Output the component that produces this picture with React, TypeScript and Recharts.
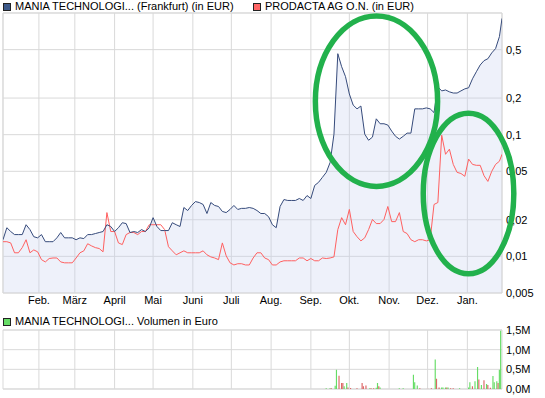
import React from 'react';
import { ComposedChart, Area, Line, Bar, Cell, XAxis, YAxis, CartesianGrid, ReferenceArea, ReferenceLine } from 'recharts';

// day of year (continues past 365 into January)
const days = [
  3, 6, 9, 12, 15, 18, 21, 24, 27, 30,
  33, 36, 39, 42, 45, 48, 51, 54, 57, 60,
  63, 66, 69, 72, 75, 78, 81, 84, 87, 90,
  93, 96, 99, 102, 105, 108, 111, 114, 117, 120,
  123, 126, 129, 132, 135, 138, 141, 144, 147, 150,
  153, 156, 159, 162, 165, 168, 171, 174, 177, 180,
  183, 186, 189, 192, 195, 198, 201, 204, 207, 210,
  213, 216, 219, 222, 225, 228, 231, 234, 237, 240,
  243, 246, 249, 252, 255, 258, 261, 264, 267, 270,
  273, 276, 279, 282, 285, 288, 291, 294, 297, 300,
  303, 306, 309, 312, 315, 318, 321, 324, 327, 330,
  333, 336, 339, 342, 345, 348, 351, 354, 357, 360,
  363, 366, 369, 372, 375, 378, 381, 384, 387, 390,
  392,
];

const maniaPrice = [
  0.0137, 0.0172, 0.016, 0.0151, 0.0151, 0.0151, 0.0182, 0.0166, 0.0145, 0.0142,
  0.0151, 0.0132, 0.0132, 0.0132, 0.0142, 0.0157, 0.0142, 0.0142, 0.0142, 0.0137,
  0.0142, 0.014, 0.0151, 0.0151, 0.0154, 0.0157, 0.016, 0.0182, 0.0176, 0.016,
  0.0172, 0.0189, 0.0186, 0.0157, 0.016, 0.0157, 0.0166, 0.016, 0.0172, 0.0208,
  0.0176, 0.0163, 0.0163, 0.0163, 0.0189, 0.0182, 0.0176, 0.0252, 0.0238, 0.0262,
  0.0282, 0.0277, 0.0267, 0.0225, 0.0277, 0.0262, 0.0257, 0.0234, 0.0229, 0.0243,
  0.0262, 0.0243, 0.0248, 0.0248, 0.0252, 0.0248, 0.0238, 0.0225, 0.0225, 0.0212,
  0.0182, 0.0172, 0.0257, 0.0293, 0.0288, 0.0288, 0.0288, 0.0299, 0.0288, 0.0316,
  0.0299, 0.0383, 0.0406, 0.0446, 0.049, 0.059, 0.101, 0.463, 0.362, 0.3,
  0.216, 0.175, 0.163, 0.172, 0.101, 0.09, 0.0955, 0.135, 0.123, 0.123,
  0.12, 0.107, 0.097, 0.092, 0.097, 0.103, 0.103, 0.163, 0.163, 0.163,
  0.166, 0.163, 0.152, 0.247, 0.229, 0.233, 0.225, 0.22, 0.22, 0.229,
  0.238, 0.243, 0.288, 0.329, 0.374, 0.406, 0.421, 0.47, 0.51, 0.64,
  0.902,
];

const prodactaPrice = [
  0.0132, 0.0132, 0.0129, 0.0107, 0.0107, 0.0118, 0.0137, 0.0107, 0.0113, 0.0109,
  0.0094, 0.009, 0.0096, 0.0097, 0.0097, 0.009, 0.00885, 0.00885, 0.00885, 0.0097,
  0.0107, 0.0111, 0.0127, 0.0122, 0.0118, 0.0116, 0.0109, 0.0229, 0.016, 0.016,
  0.0129, 0.0125, 0.0151, 0.0157, 0.0157, 0.0151, 0.016, 0.016, 0.0182, 0.0182,
  0.0182, 0.0182, 0.0166, 0.012, 0.0111, 0.0103, 0.0107, 0.0111, 0.0107, 0.0107,
  0.0107, 0.0107, 0.0111, 0.0103, 0.0099, 0.0097, 0.0094, 0.0129, 0.0101, 0.00885,
  0.0085, 0.0087, 0.0087, 0.0085, 0.0085, 0.0097, 0.0107, 0.0107, 0.0097, 0.0094,
  0.0085, 0.0085, 0.009, 0.0092, 0.0092, 0.0092, 0.0092, 0.0097, 0.0097, 0.0092,
  0.0096, 0.0092, 0.0092, 0.0097, 0.0096, 0.0097, 0.0099, 0.0166, 0.0208, 0.0182,
  0.0243, 0.016, 0.0145, 0.0134, 0.0142, 0.0166, 0.0201, 0.0186, 0.0186, 0.0201,
  0.0257, 0.0193, 0.0193, 0.0229, 0.016, 0.0154, 0.0137, 0.0132, 0.0137, 0.0137,
  0.0134, 0.0137, 0.0267, 0.0277, 0.099, 0.069, 0.076, 0.057, 0.049, 0.048,
  0.0455, 0.063, 0.057, 0.056, 0.056, 0.046, 0.0413, 0.05, 0.057, 0.0605,
  0.069,
];

const monthTicks = [31, 59, 90, 120, 151, 181, 212, 243, 273, 304, 334, 365];
const monthLabels = ['Feb.', 'März', 'April', 'Mai', 'Juni', 'Juli', 'Aug.', 'Sep.', 'Okt.', 'Nov.', 'Dez.', 'Jan.'];
const priceTicks = [0.005, 0.01, 0.02, 0.05, 0.1, 0.2, 0.5];

// volume in million EUR, up = green bar, otherwise red
const volumeDays = [
  255, 258, 259, 262, 263, 265, 267, 268, 269, 271, 272, 274, 279, 283, 284, 286,
  289, 290, 292, 294, 295, 296, 297, 312, 315, 323, 324, 326, 328, 334, 337, 340,
  341, 343, 345, 346, 348, 349, 350, 352, 354, 359, 366, 367, 369, 371, 373, 374,
  376, 378, 380, 381, 383, 385, 386, 388, 389, 390, 391,
];
const volumeValues = [
  0.02, 0.02, 0.02, 0.08, 0.49, 0.34, 0.15, 0.15, 0.07, 0.15, 0.04, 0.025, 0.02, 0.15, 0.07, 0.09,
  0.02, 0.02, 0.02, 0.03, 0.15, 0.07, 0.04, 0.02, 0.02, 0.36, 0.17, 0.09, 0.02, 0.02, 0.02, 0.75,
  0.26, 0.04, 0.04, 0.04, 0.04, 0.04, 0.04, 0.02, 0.02, 0.02, 0.04, 0.17, 0.07, 0.2, 0.56, 0.24,
  0.1, 0.22, 0.13, 0.1, 0.03, 0.33, 0.17, 0.2, 0.15, 0.49, 1.48,
];
const volumeUp = [
  1, 1, 0, 1, 1, 0, 0, 0, 1, 1, 0, 0, 0, 0, 0, 0,
  1, 0, 0, 1, 1, 0, 1, 1, 1, 1, 1, 1, 0, 0, 0, 1,
  0, 0, 1, 1, 1, 0, 1, 0, 0, 1, 1, 1, 0, 1, 1, 0,
  1, 0, 1, 0, 0, 1, 1, 1, 0, 1, 1,
];
const volumeTicks = [0, 0.5, 1, 1.5];

// hand drawn green ellipses (day range, price range)
const circles = [
  { x1: 246.5, x2: 341.8, y1: 0.0376, y2: 0.946 },
  { x1: 330.6, x2: 401.2, y1: 0.0072, y2: 0.15 },
];

const priceData = days.map((d, i) => ({ day: d, mania: maniaPrice[i], prodacta: prodactaPrice[i] }));
const volumeData = volumeDays.map((d, i) => ({ day: d, vol: volumeValues[i], up: volumeUp[i] }));

const GRID = '#d9d9d9';
const NAVY = '#364b7b';
const RED = '#ff6060';
const GREEN = '#22b14c';

const fmtMonth = (v: number) => monthLabels[monthTicks.indexOf(v)] ?? '';
const fmtPrice = (v: number) => String(v).replace('.', ',');
const fmtVol = (v: number) => v.toFixed(1).replace('.', ',') + 'M';

const Ellipse = (props: any) => {
  const { x, y, width, height } = props;
  return (
    <ellipse
      cx={x + width / 2}
      cy={y + height / 2}
      rx={Math.abs(width) / 2}
      ry={Math.abs(height) / 2}
      fill="none"
      stroke={GREEN}
      strokeWidth={5.5}
    />
  );
};

const LegendItem = ({ color, label, left, top }: { color: string; label: string; left: number; top: number }) => (
  <div style={{ position: 'absolute', left, top, display: 'flex', alignItems: 'center', whiteSpace: 'nowrap', fontSize: 11, lineHeight: '13px' }}>
    <span style={{ display: 'inline-block', width: 6, height: 6, background: color, border: '1px solid #222', marginRight: 4 }} />
    {label}
  </div>
);

export default function App() {
  const tick = { fill: '#000', fontSize: 11 };
  return (
    <div style={{ position: 'absolute', left: 0, top: 0, width: 545, height: 398, background: '#fff', fontFamily: '"Liberation Sans", Arial, sans-serif', color: '#000' }}>
      <LegendItem color="#3d5a8a" label="MANIA TECHNOLOGI... (Frankfurt) (in EUR)" left={3} top={0} />
      <LegendItem color="#ff6666" label="PRODACTA AG O.N. (in EUR)" left={253} top={0} />

      <div style={{ position: 'absolute', left: 0, top: 0 }}>
        <ComposedChart width={545} height={310} data={priceData} margin={{ top: 13, right: 0, bottom: 0, left: 3 }}>
          <CartesianGrid stroke={GRID} />
          <XAxis
            dataKey="day"
            type="number"
            domain={[3, 392]}
            allowDataOverflow
            ticks={monthTicks}
            interval={0}
            tickFormatter={fmtMonth}
            axisLine={false}
            tickLine={false}
            tickSize={0}
            tickMargin={3}
            height={17}
            tick={tick}
          />
          <YAxis
            orientation="right"
            type="number"
            scale="log"
            domain={[0.005, 1]}
            allowDataOverflow
            ticks={priceTicks}
            interval={0}
            tickFormatter={fmtPrice}
            axisLine={false}
            tickLine={false}
            tickSize={0}
            tickMargin={4}
            width={43}
            tick={tick}
          />
          <Area
            dataKey="mania"
            type="linear"
            stroke="none"
            fill="#c6d0ee"
            fillOpacity={0.3}
            baseValue={0.005}
            isAnimationActive={false}
          />
          <ReferenceArea x1={3} x2={392} y1={0.005} y2={1} fill="none" stroke={GRID} ifOverflow="visible" />
          <Line dataKey="prodacta" type="linear" stroke={RED} strokeWidth={1} dot={false} isAnimationActive={false} />
          <Line dataKey="mania" type="linear" stroke={NAVY} strokeWidth={1} dot={false} isAnimationActive={false} />
          {circles.map((c, i) => (
            <ReferenceArea key={i} x1={c.x1} x2={c.x2} y1={c.y1} y2={c.y2} ifOverflow="visible" shape={Ellipse} zIndex={2000} />
          ))}
        </ComposedChart>
      </div>

      <LegendItem color="#66dd66" label="MANIA TECHNOLOGI... Volumen in Euro" left={3} top={315} />

      <div style={{ position: 'absolute', left: 0, top: 320 }}>
        <ComposedChart width={545} height={78} data={volumeData} margin={{ top: 10, right: 0, bottom: 9, left: 3 }}>
          <CartesianGrid stroke={GRID} vertical={false} />
          <XAxis dataKey="day" type="number" domain={[3, 392]} allowDataOverflow hide />
          <YAxis
            orientation="right"
            type="number"
            domain={[0, 1.5]}
            ticks={volumeTicks}
            interval={0}
            tickFormatter={fmtVol}
            axisLine={false}
            tickLine={false}
            tickSize={0}
            tickMargin={4}
            width={43}
            tick={tick}
          />
          {monthTicks.map((t) => (
            <ReferenceLine key={t} x={t} stroke={GRID} />
          ))}
          <ReferenceArea x1={3} x2={392} y1={0} y2={1.5} fill="none" stroke={GRID} ifOverflow="visible" />
          <Bar dataKey="vol" barSize={2} isAnimationActive={false}>
            {volumeData.map((e, i) => (
              <Cell key={i} fill={e.up ? '#66dd66' : '#dd6666'} />
            ))}
          </Bar>
        </ComposedChart>
      </div>
    </div>
  );
}
